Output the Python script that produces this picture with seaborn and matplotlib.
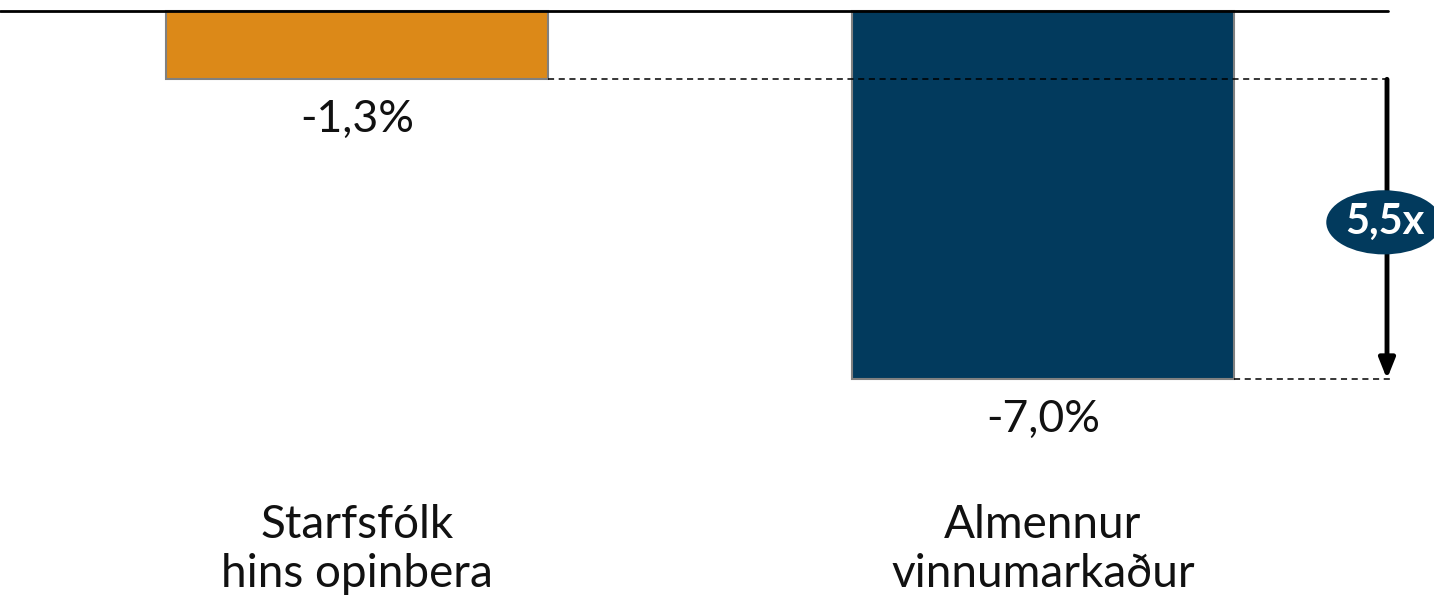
import matplotlib
matplotlib.use("Agg")
import matplotlib.pyplot as plt
from matplotlib.patches import Ellipse
import pandas as pd
import seaborn as sns

# data
categories = ["Starfsfólk\nhins opinbera", "Almennur\nvinnumarkaður"]
values = [-1.3, -7.0]
value_labels = ["-1,3%", "-7,0%"]
bar_colors = ["#DC8918", "#023A5D"]
ratio_label = "5,5x"

df = pd.DataFrame({"flokkur": categories, "breyting": values})

sns.set_theme(style="white")
plt.rcParams["font.family"] = ["Lato", "DejaVu Sans"]

fig = plt.figure(figsize=(14.34, 5.99), dpi=100)
ax = fig.add_axes([0, 0, 1, 1])

sns.barplot(data=df, x="flokkur", y="breyting", hue="flokkur",
            palette=bar_colors, legend=False, width=0.557,
            edgecolor="#808080", linewidth=1.5, saturation=1, ax=ax)

ax.set_xlim(-0.520, 1.570)
ax.set_ylim(-11.185, 0.209)
ax.axis("off")

# zero line
ax.axhline(0, xmin=0, xmax=1388 / 1434, color="black", linewidth=2.0, zorder=5)

# value labels under the bars
for i, (v, lab) in enumerate(zip(values, value_labels)):
    ax.text(i, v - 0.77, lab, ha="center", va="center", fontsize=32, color="#111111")

# category labels
for i, cat in enumerate(categories):
    ax.text(i, -10.25, cat, ha="center", va="center", fontsize=33,
            color="#111111", linespacing=1.2)

# dashed guide lines from bar bottoms
half = 0.557 / 2
x_end = 1.507
for i, v in enumerate(values):
    ax.plot([i + half, x_end], [v, v], color="black", linestyle=(0, (4, 3)),
            linewidth=1.1)

# arrow between the two levels
x_arrow = 1.5015
ax.annotate("", xy=(x_arrow, values[1]), xytext=(x_arrow, values[0]),
            arrowprops=dict(arrowstyle="-|>,head_length=1.0,head_width=0.4",
                            color="black", linewidth=3.5, shrinkA=0, shrinkB=0))

# ratio bubble
mid = -4.02
ax.add_patch(Ellipse((1.497, mid), width=0.168, height=1.22,
                     facecolor="#023A5D", edgecolor="none", zorder=6))
ax.text(1.499, mid, ratio_label, ha="center", va="center", fontsize=30,
        fontweight="bold", color="white", zorder=7)

fig.savefig("out.png", dpi=100)
